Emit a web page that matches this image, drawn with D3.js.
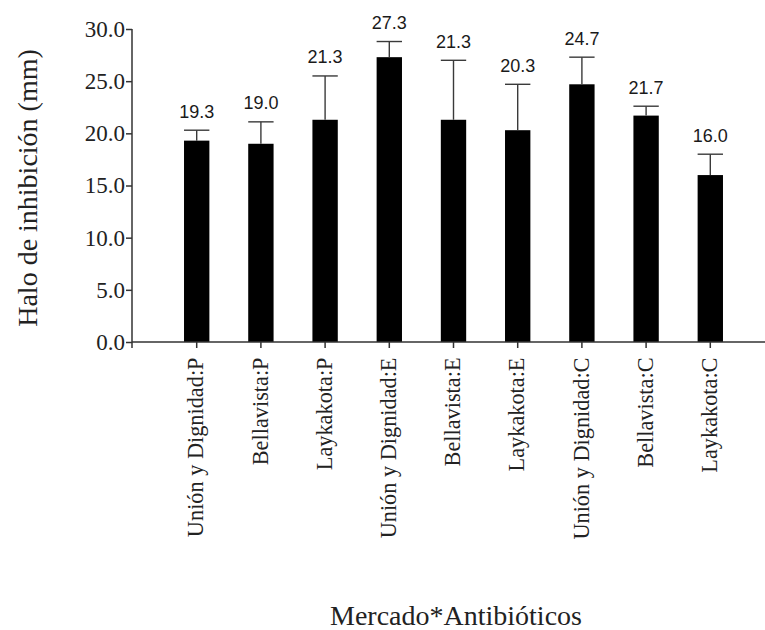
<!DOCTYPE html>
<html>
<head>
<meta charset="utf-8">
<script src="https://cdn.jsdelivr.net/npm/d3@7"></script>
<style>
  html, body { margin: 0; padding: 0; background: #fff; }
  svg { display: block; }
</style>
</head>
<body>
<svg id="chart" width="765" height="630"></svg>
<script>
// Inhibition halo per market × antibiotic combination
const categories = [
  "Unión y Dignidad:P", "Bellavista:P", "Laykakota:P",
  "Unión y Dignidad:E", "Bellavista:E", "Laykakota:E",
  "Unión y Dignidad:C", "Bellavista:C", "Laykakota:C"
];
const means  = [19.3, 19.0, 21.3, 27.3, 21.3, 20.3, 24.7, 21.7, 16.0];
const errors = [1.0, 2.1, 4.2, 1.5, 5.7, 4.4, 2.6, 0.9, 2.0];
const yTicks = [0, 5, 10, 15, 20, 25, 30];

const yTitle = "Halo de inhibición (mm)";
const xTitle = "Mercado*Antibióticos";

const W = 765, H = 630;
const plotLeft = 132, plotTop = 29, plotBottom = 342;

const rows = categories.map((c, i) => ({ cat: c, mean: means[i], err: errors[i] }));

const svg = d3.select("#chart");

const x = d3.scaleBand()
  .domain(categories)
  .range([164.6, 742.4])
  .paddingInner(0.605)
  .paddingOuter(0.3025);

const y = d3.scaleLinear().domain([0, 30]).range([plotBottom, plotTop]);

const axisColor = "#333";
const serif = "'Liberation Serif', 'Times New Roman', serif";
const sans = "'Liberation Sans', Arial, sans-serif";

// bars
svg.append("g")
  .selectAll("rect")
  .data(rows)
  .join("rect")
  .attr("x", d => x(d.cat))
  .attr("y", d => y(d.mean))
  .attr("width", x.bandwidth())
  .attr("height", d => y(0) - y(d.mean))
  .attr("fill", "#000");

// error bars (upper only)
const eb = svg.append("g")
  .attr("stroke", "#3a3a3a")
  .attr("stroke-width", 1.4)
  .attr("fill", "none");

eb.selectAll("line.stem")
  .data(rows)
  .join("line")
  .attr("class", "stem")
  .attr("x1", d => x(d.cat) + x.bandwidth() / 2)
  .attr("x2", d => x(d.cat) + x.bandwidth() / 2)
  .attr("y1", d => y(d.mean))
  .attr("y2", d => y(d.mean + d.err));

eb.selectAll("line.cap")
  .data(rows)
  .join("line")
  .attr("class", "cap")
  .attr("x1", d => x(d.cat))
  .attr("x2", d => x(d.cat) + x.bandwidth())
  .attr("y1", d => y(d.mean + d.err))
  .attr("y2", d => y(d.mean + d.err));

// value labels above the caps
svg.append("g")
  .selectAll("text")
  .data(rows)
  .join("text")
  .attr("x", d => x(d.cat) + x.bandwidth() / 2)
  .attr("y", d => y(d.mean + d.err) - 12.5)
  .attr("text-anchor", "middle")
  .attr("font-family", sans)
  .attr("font-size", 18)
  .attr("fill", "#1a1a1a")
  .text(d => d3.format(".1f")(d.mean));

// y axis
const yAxis = svg.append("g")
  .attr("transform", `translate(${plotLeft},0)`)
  .call(d3.axisLeft(y).tickValues(yTicks).tickFormat(d3.format(".1f"))
    .tickSize(6).tickSizeOuter(0).tickPadding(1));
yAxis.select(".domain").remove();
yAxis.selectAll(".tick line").attr("stroke", axisColor).attr("stroke-width", 1.5);
yAxis.selectAll(".tick text")
  .attr("font-family", serif)
  .attr("font-size", 23)
  .attr("fill", "#222");
yAxis.append("line")
  .attr("x1", 0).attr("x2", 0)
  .attr("y1", y(30)).attr("y2", y(0) + 6)
  .attr("stroke", axisColor).attr("stroke-width", 1.5);

// x axis
const xAxis = svg.append("g")
  .attr("transform", `translate(0,${plotBottom})`)
  .call(d3.axisBottom(x).tickSize(6).tickSizeOuter(0));
xAxis.select(".domain").remove();
xAxis.append("line")
  .attr("x1", plotLeft).attr("x2", W)
  .attr("y1", 0).attr("y2", 0)
  .attr("stroke", axisColor).attr("stroke-width", 1.5);
xAxis.selectAll(".tick line").attr("stroke", axisColor).attr("stroke-width", 1.5);
xAxis.selectAll(".tick text")
  .attr("font-family", serif)
  .attr("font-size", 22.3)
  .attr("fill", "#222")
  .attr("text-anchor", "end")
  .attr("transform", "rotate(-90)")
  .attr("x", -15.5)
  .attr("y", 0)
  .attr("dy", "0.3em");

// axis titles
svg.append("text")
  .attr("transform", `translate(37,188) rotate(-90)`)
  .attr("text-anchor", "middle")
  .attr("font-family", serif)
  .attr("font-size", 28)
  .attr("fill", "#222")
  .text(yTitle);

svg.append("text")
  .attr("x", 456)
  .attr("y", 625)
  .attr("text-anchor", "middle")
  .attr("font-family", serif)
  .attr("font-size", 28)
  .attr("fill", "#222")
  .text(xTitle);
</script>
</body>
</html>
